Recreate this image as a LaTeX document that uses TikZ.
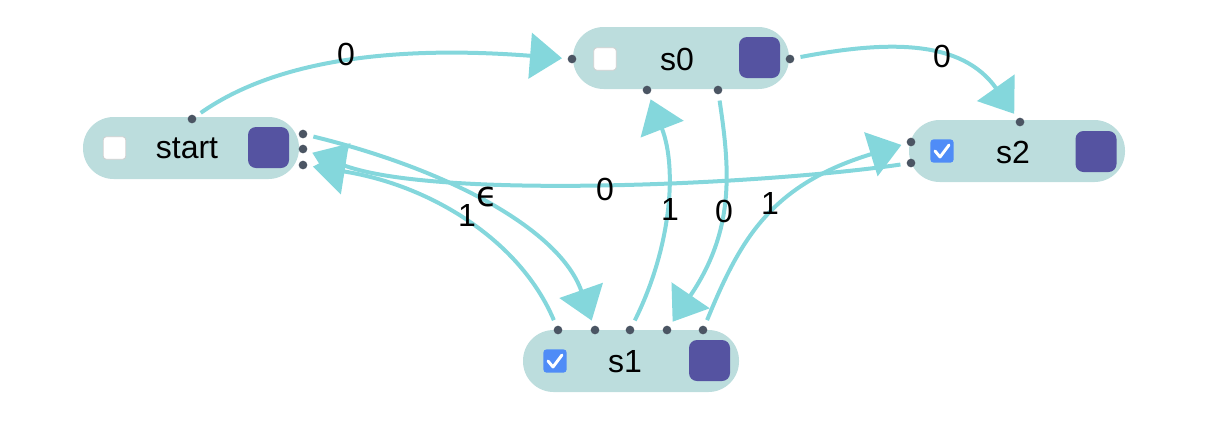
\documentclass[tikz,border=0pt]{standalone}
\usepackage{fontspec}
\setmainfont{Liberation Sans}
\newfontfamily\dejavu{DejaVu Sans}
\usetikzlibrary{arrows.meta}
\definecolor{pill}{HTML}{BCDDDD}
\definecolor{purp}{HTML}{5553A1}
\definecolor{edgec}{HTML}{84D7DC}
\definecolor{dotc}{HTML}{4B5563}
\definecolor{cbblue}{HTML}{4F8CF7}
\definecolor{cbgrey}{HTML}{CFCFCF}
\begin{document}
\begin{tikzpicture}[x=0.75pt,y=-0.75pt,
  pillnode/.style={fill=pill, rounded corners=23pt, minimum width=162pt, minimum height=46.5pt, inner sep=0pt},
  purpbox/.style={fill=purp, rounded corners=6pt, minimum size=30.75pt, inner sep=0pt},
  cbempty/.style={fill=white, draw=cbgrey, line width=0.6pt, rounded corners=2.5pt, minimum size=17pt, inner sep=0pt},
  cbcheck/.style={fill=cbblue, rounded corners=2.5pt, minimum size=17.5pt, inner sep=0pt},
  tick/.style={white, line width=2.2pt, line cap=round, line join=round},
  port/.style={circle, fill=dotc, minimum size=6.5pt, inner sep=0pt},
  lbl/.style={font=\fontsize{24}{28}\selectfont, inner sep=0pt},
  elbl/.style={font=\fontsize{24}{28}\selectfont, inner sep=0pt},
  conn/.style={draw=edgec, line width=3pt, -{Triangle[length=24pt,width=34pt]}, shorten <=8pt, shorten >=7.5pt},
]
\useasboundingbox (0,0) rectangle (1212,426);

% pills
\node[pillnode] (start) at (191,148) {};
\node[pillnode] (s0) at (681,58) {};
\node[pillnode] (s2) at (1017,151) {};
\node[pillnode] (s1) at (631,361) {};

% texts
\node[lbl] (startT) at (187,148) {start};
\node[lbl] (s0T) at (677,59) {s0};
\node[lbl] (s2T) at (1013,152) {s2};
\node[lbl] (s1T) at (625,362) {s1};

% purple boxes
\node[purpbox] (startP) at (268.5,147.5) {};
\node[purpbox] (s0P) at (759.5,57.5) {};
\node[purpbox] (s2P) at (1096,151.5) {};
\node[purpbox] (s1P) at (709.5,360.5) {};

% checkboxes
\node[cbempty] (startC) at (114.5,148) {};
\node[cbempty] (s0C) at (605,59) {};
\node[cbcheck] (s2C) at (942,151) {};
\node[cbcheck] (s1C) at (555,361) {};
\draw[tick] (s2C.center) ++(-7,0) -- ++(5,6) -- ++(9,-12);
\draw[tick] (s1C.center) ++(-7,0) -- ++(5,6) -- ++(9,-12);

% ports
\node[port] (stTop) at (192,119) {};
\node[port] (stR1) at (303,134) {};
\node[port] (stR2) at (303,149) {};
\node[port] (stR3) at (303,165) {};
\node[port] (s0L) at (572,59) {};
\node[port] (s0R) at (790,59) {};
\node[port] (s0B1) at (647,90) {};
\node[port] (s0B2) at (718,90) {};
\node[port] (s2L1) at (911,142) {};
\node[port] (s2L2) at (911,163) {};
\node[port] (s2Top) at (1020,122) {};
\node[port] (s1a) at (558,330) {};
\node[port] (s1b) at (595,330) {};
\node[port] (s1c) at (630,330) {};
\node[port] (s1d) at (667,330) {};
\node[port] (s1e) at (703,330) {};

% connectors
\draw[conn] (stTop.center) .. controls (290,50) and (430,48) .. (s0L.center);
\draw[conn] (s0R.center) .. controls (890,40) and (962,40) .. (s2Top.center);
\draw[conn] (s2L2.center) .. controls (760,185) and (430,200) .. (stR2.center);
\draw[conn] (stR1.center) .. controls (450,170) and (560,230) .. (s1b.center);
\draw[conn] (s1a.center) .. controls (520,240) and (430,185) .. (stR3.center);
\draw[conn] (s1c.center) .. controls (670,250) and (678,170) .. (s0B1.center);
\draw[conn] (s0B2.center) .. controls (730,170) and (735,230) .. (s1d.center);
\draw[conn] (s1e.center) .. controls (740,240) and (770,185) .. (s2L1.center);

% edge labels
\node[elbl] (l1) at (346,54) {0};
\node[elbl] (l2) at (942,56) {0};
\node[elbl] (l3) at (605,189) {0};
\node[elbl] (l4) at (487,197) {\fontsize{26}{28}\selectfont\dejavu ϵ};
\node[elbl] (l5) at (467,215) {1};
\node[elbl] (l6) at (670,209) {1};
\node[elbl] (l7) at (724,211) {0};
\node[elbl] (l8) at (770,203) {1};
\end{tikzpicture}
\end{document}
